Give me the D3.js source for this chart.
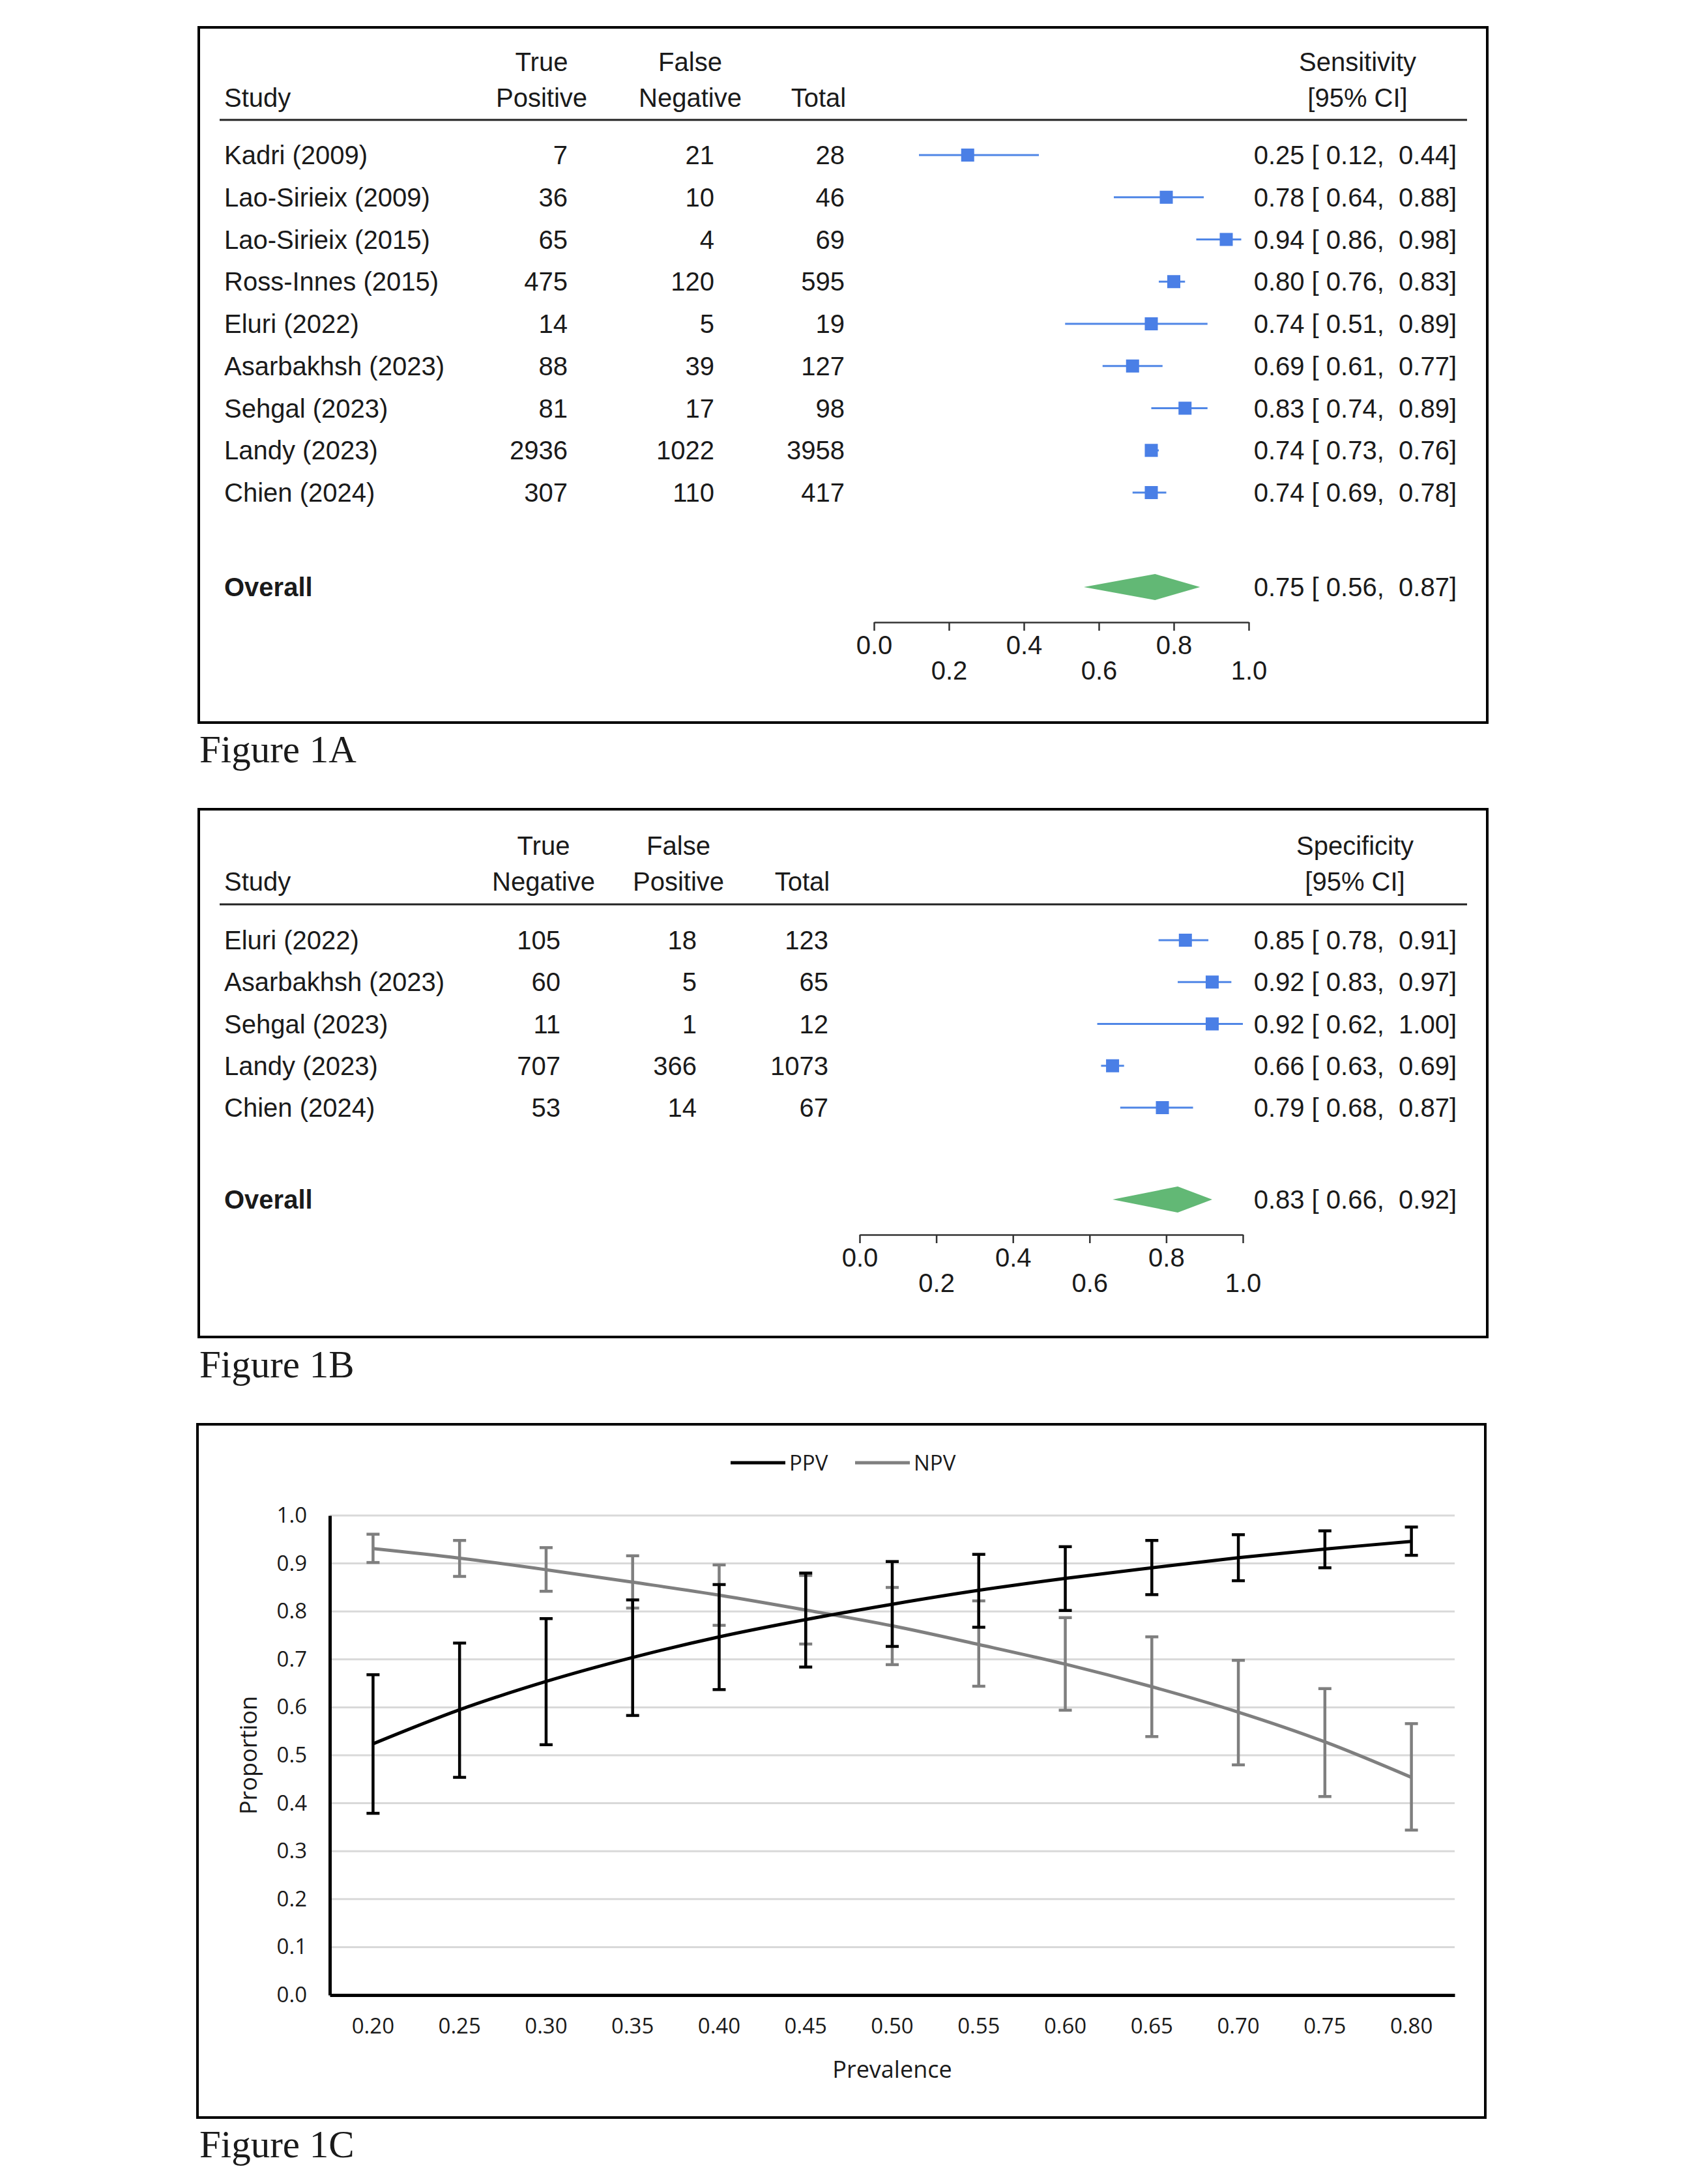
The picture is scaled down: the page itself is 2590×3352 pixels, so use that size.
<!DOCTYPE html>
<html>
<head>
<meta charset="utf-8">
<script src="https://cdn.jsdelivr.net/npm/d3@7"></script>
<style>
  body { margin: 0; background: #fff; }
  text { fill: #1a1a1a; }
</style>
</head>
<body>
<svg id="fig" width="2590" height="3352"></svg>
<script>
// ---- Figure 1A: sensitivity ----
let studiesA = ["Kadri (2009)", "Lao-Sirieix (2009)", "Lao-Sirieix (2015)", "Ross-Innes (2015)",
  "Eluri (2022)", "Asarbakhsh (2023)", "Sehgal (2023)", "Landy (2023)", "Chien (2024)"];
let truePosA = [7, 36, 65, 475, 14, 88, 81, 2936, 307];
let falseNegA = [21, 10, 4, 120, 5, 39, 17, 1022, 110];
let totalA = [28, 46, 69, 595, 19, 127, 98, 3958, 417];
let sensEst = [0.25, 0.78, 0.94, 0.80, 0.74, 0.69, 0.83, 0.74, 0.74];
let sensLo = [0.12, 0.64, 0.86, 0.76, 0.51, 0.61, 0.74, 0.73, 0.69];
let sensHi = [0.44, 0.88, 0.98, 0.83, 0.89, 0.77, 0.89, 0.76, 0.78];
let sensOverall = [0.75, 0.56, 0.87];

// ---- Figure 1B: specificity ----
let studiesB = ["Eluri (2022)", "Asarbakhsh (2023)", "Sehgal (2023)", "Landy (2023)", "Chien (2024)"];
let trueNegB = [105, 60, 11, 707, 53];
let falsePosB = [18, 5, 1, 366, 14];
let totalB = [123, 65, 12, 1073, 67];
let specEst = [0.85, 0.92, 0.92, 0.66, 0.79];
let specLo = [0.78, 0.83, 0.62, 0.63, 0.68];
let specHi = [0.91, 0.97, 1.00, 0.69, 0.87];
let specOverall = [0.83, 0.66, 0.92];

let forestTicks = [0, 0.2, 0.4, 0.6, 0.8, 1.0];

// ---- Figure 1C: PPV / NPV by prevalence ----
let prevalence = ["0.20", "0.25", "0.30", "0.35", "0.40", "0.45", "0.50", "0.55", "0.60", "0.65", "0.70", "0.75", "0.80"];
let ppv = [0.524, 0.595, 0.654, 0.704, 0.747, 0.783, 0.815, 0.844, 0.869, 0.891, 0.912, 0.930, 0.946];
let ppvLo = [0.379, 0.454, 0.522, 0.583, 0.637, 0.684, 0.727, 0.767, 0.802, 0.835, 0.864, 0.891, 0.917];
let ppvHi = [0.668, 0.734, 0.785, 0.824, 0.856, 0.880, 0.904, 0.919, 0.935, 0.948, 0.960, 0.968, 0.976];
let npv = [0.931, 0.911, 0.887, 0.861, 0.834, 0.803, 0.770, 0.731, 0.690, 0.643, 0.590, 0.528, 0.454];
let npvLo = [0.902, 0.873, 0.842, 0.807, 0.771, 0.732, 0.689, 0.644, 0.594, 0.539, 0.480, 0.414, 0.344];
let npvHi = [0.961, 0.948, 0.933, 0.916, 0.897, 0.875, 0.850, 0.822, 0.787, 0.747, 0.698, 0.639, 0.566];
let yTicksC = [0, 0.1, 0.2, 0.3, 0.4, 0.5, 0.6, 0.7, 0.8, 0.9, 1.0];

let sans = "'Liberation Sans', Arial, Helvetica, sans-serif";
let serif = "'Liberation Serif', 'Times New Roman', serif";
let f2 = d3.format(".2f");

let svg = d3.select("#fig");
svg.append("rect").attr("width", 2590).attr("height", 3352).attr("fill", "#fff");

function drawForest(opt) {
  let g = svg.append("g").style("font-family", sans).style("font-size", "40px");

  // outer frame
  g.append("rect")
    .attr("x", opt.box[0]).attr("y", opt.box[1])
    .attr("width", opt.box[2] - opt.box[0]).attr("height", opt.box[3] - opt.box[1])
    .attr("fill", "none").attr("stroke", "#000").attr("stroke-width", 4);

  let x = d3.scaleLinear().domain([0, 1]).range(opt.xRange);
  let y = d3.scalePoint().domain(opt.studies).range(opt.yRange);

  // column headers
  g.append("text").attr("x", 344).attr("y", opt.headY[1]).attr("dy", "0.35em").text("Study");
  opt.headers.forEach(function (h) {
    h.lines.forEach(function (line, i) {
      g.append("text")
        .attr("x", h.x).attr("y", opt.headY[i + (2 - h.lines.length)])
        .attr("dy", "0.35em").attr("text-anchor", "middle").text(line);
    });
  });
  g.append("line")
    .attr("x1", 337).attr("x2", 2251).attr("y1", opt.lineY).attr("y2", opt.lineY)
    .attr("stroke", "#222").attr("stroke-width", 3);

  // table body
  let rows = g.selectAll(".row")
    .data(opt.studies.map((s, i) => ({ study: s, i: i })))
    .enter().append("g")
    .attr("transform", d => "translate(0," + y(d.study) + ")");

  rows.append("text").attr("x", 344).attr("dy", "0.35em").text(d => d.study);
  opt.cols.forEach(function (c) {
    rows.append("text")
      .attr("x", c.x).attr("dy", "0.35em").attr("text-anchor", "end")
      .text(d => c.values[d.i]);
  });

  // confidence intervals and point estimates
  rows.append("line")
    .attr("x1", d => x(opt.lo[d.i])).attr("x2", d => x(opt.hi[d.i]))
    .attr("stroke", "#4f86e6").attr("stroke-width", 3);
  rows.append("rect")
    .attr("x", d => x(opt.est[d.i]) - 10).attr("y", -10)
    .attr("width", 20).attr("height", 20)
    .attr("fill", "#4a7fe6");

  rows.append("text")
    .attr("x", 2235).attr("dy", "0.35em").attr("text-anchor", "end")
    .style("white-space", "pre")
    .text(d => f2(opt.est[d.i]) + " [ " + f2(opt.lo[d.i]) + ",  " + f2(opt.hi[d.i]) + "]");

  // overall (summary diamond)
  let o = opt.overall;
  g.append("text").attr("x", 344).attr("y", opt.overallY).attr("dy", "0.35em")
    .style("font-weight", "bold").text("Overall");
  g.append("path")
    .attr("d", d3.line()([[x(o[1]), opt.overallY], [x(o[0]), opt.overallY - 20],
      [x(o[2]), opt.overallY], [x(o[0]), opt.overallY + 20]]) + "Z")
    .attr("fill", "#62b875");
  g.append("text")
    .attr("x", 2235).attr("y", opt.overallY).attr("dy", "0.35em").attr("text-anchor", "end")
    .style("white-space", "pre")
    .text(f2(o[0]) + " [ " + f2(o[1]) + ",  " + f2(o[2]) + "]");

  // x axis with staggered labels
  let ax = g.append("g")
    .attr("transform", "translate(0," + opt.axisY + ")")
    .call(d3.axisBottom(x).tickValues(forestTicks).tickFormat(d3.format(".1f")).tickSize(13).tickSizeOuter(0));
  ax.select(".domain").attr("stroke", "#333").attr("stroke-width", 2.5);
  ax.selectAll(".tick line").attr("stroke", "#333").attr("stroke-width", 2.5);
  ax.selectAll(".tick text")
    .style("font-family", sans).style("font-size", "40px").attr("fill", "#1a1a1a")
    .attr("dy", 0)
    .attr("y", (d, i) => i % 2 ? 88 : 49);

  // caption
  svg.append("text")
    .attr("x", 306).attr("y", opt.captionY)
    .style("font-family", serif).style("font-size", "59px").attr("fill", "#000")
    .text(opt.caption);
}

drawForest({
  box: [305, 42, 2282, 1109],
  studies: studiesA,
  xRange: [1341, 1916],
  yRange: [238, 756],
  headY: [95, 150],
  lineY: 184,
  headers: [
    { x: 831, lines: ["True", "Positive"] },
    { x: 1059, lines: ["False", "Negative"] },
    { x: 1256, lines: ["Total"] },
    { x: 2083, lines: ["Sensitivity", "[95% CI]"] }
  ],
  cols: [
    { x: 871, values: truePosA },
    { x: 1096, values: falseNegA },
    { x: 1296, values: totalA }
  ],
  est: sensEst, lo: sensLo, hi: sensHi,
  overall: sensOverall,
  overallY: 901,
  axisY: 955,
  caption: "Figure 1A",
  captionY: 1170
});

drawForest({
  box: [305, 1242, 2282, 2052],
  studies: studiesB,
  xRange: [1319, 1907],
  yRange: [1443, 1700],
  headY: [1298, 1353],
  lineY: 1388,
  headers: [
    { x: 834, lines: ["True", "Negative"] },
    { x: 1041, lines: ["False", "Positive"] },
    { x: 1231, lines: ["Total"] },
    { x: 2079, lines: ["Specificity", "[95% CI]"] }
  ],
  cols: [
    { x: 860, values: trueNegB },
    { x: 1069, values: falsePosB },
    { x: 1271, values: totalB }
  ],
  est: specEst, lo: specLo, hi: specHi,
  overall: specOverall,
  overallY: 1841,
  axisY: 1895,
  caption: "Figure 1B",
  captionY: 2114
});

// ---- Figure 1C ----
function drawPredictive() {
  let font = "'Open Sans', 'Noto Sans', sans-serif";
  let g = svg.append("g").style("font-family", font);

  g.append("rect")
    .attr("x", 303).attr("y", 2186).attr("width", 2279 - 303).attr("height", 3250 - 2186)
    .attr("fill", "none").attr("stroke", "#000").attr("stroke-width", 4);

  let left = 506, right = 2232, top = 2326, bottom = 3062;
  let x = d3.scaleBand().domain(prevalence).range([left, right]);
  let y = d3.scaleLinear().domain([0, 1]).range([bottom, top]);
  let cx = d => x(d) + x.bandwidth() / 2;

  // gridlines
  g.selectAll(".grid")
    .data(yTicksC.filter(d => d > 0))
    .enter().append("line")
    .attr("x1", left).attr("x2", right)
    .attr("y1", d => y(d)).attr("y2", d => y(d))
    .attr("stroke", "#d9d9d9").attr("stroke-width", 3);

  // y axis
  let ay = g.append("g")
    .attr("transform", "translate(" + left + ",0)")
    .call(d3.axisLeft(y).tickValues(yTicksC).tickFormat(d3.format(".1f")).tickSize(0).tickPadding(35));
  ay.select(".domain").attr("stroke", "#000").attr("stroke-width", 5);
  ay.selectAll("text").style("font-family", font).style("font-size", "33px").attr("fill", "#000");

  // x axis
  let axx = g.append("g")
    .attr("transform", "translate(0," + bottom + ")")
    .call(d3.axisBottom(x).tickSize(0));
  axx.select(".domain").attr("stroke", "#000").attr("stroke-width", 5);
  axx.selectAll("text").style("font-family", font).style("font-size", "33px").attr("fill", "#000")
    .attr("dy", 0).attr("y", 59);

  // axis titles
  g.append("text")
    .attr("x", (left + right) / 2).attr("y", 3189).attr("text-anchor", "middle")
    .style("font-size", "36px").attr("fill", "#000").text("Prevalence");
  g.append("text")
    .attr("transform", "translate(394,2694)rotate(-90)")
    .attr("text-anchor", "middle")
    .style("font-size", "36px").attr("fill", "#000").text("Proportion");

  let series = [
    { name: "NPV", color: "#7f7f7f", v: npv, lo: npvLo, hi: npvHi },
    { name: "PPV", color: "#000000", v: ppv, lo: ppvLo, hi: ppvHi }
  ];

  let line = d3.line()
    .x((d, i) => cx(prevalence[i]))
    .y(d => y(d))
    .curve(d3.curveCatmullRom.alpha(0.5));

  series.forEach(function (s) {
    let sg = g.append("g");
    sg.append("path")
      .attr("d", line(s.v))
      .attr("fill", "none").attr("stroke", s.color).attr("stroke-width", 5);

    let bars = sg.selectAll(".err")
      .data(prevalence.map((p, i) => ({ p: p, lo: s.lo[i], hi: s.hi[i] })))
      .enter().append("g");
    bars.append("line")
      .attr("x1", d => cx(d.p)).attr("x2", d => cx(d.p))
      .attr("y1", d => y(d.lo)).attr("y2", d => y(d.hi))
      .attr("stroke", s.color).attr("stroke-width", 4.5);
    ["lo", "hi"].forEach(function (k) {
      bars.append("line")
        .attr("x1", d => cx(d.p) - 10).attr("x2", d => cx(d.p) + 10)
        .attr("y1", d => y(d[k])).attr("y2", d => y(d[k]))
        .attr("stroke", s.color).attr("stroke-width", 4.5);
    });
  });

  // legend
  let legend = [
    { name: "PPV", color: "#000000", x: 1121 },
    { name: "NPV", color: "#7f7f7f", x: 1312 }
  ];
  legend.forEach(function (l) {
    g.append("line")
      .attr("x1", l.x).attr("x2", l.x + 84).attr("y1", 2245).attr("y2", 2245)
      .attr("stroke", l.color).attr("stroke-width", 5);
    g.append("text")
      .attr("x", l.x + 90).attr("y", 2245).attr("dy", "0.35em")
      .style("font-size", "33px").attr("fill", "#000").text(l.name);
  });

  svg.append("text")
    .attr("x", 306).attr("y", 3311)
    .style("font-family", serif).style("font-size", "59px").attr("fill", "#000")
    .text("Figure 1C");
}

drawPredictive();
</script>
</body>
</html>
